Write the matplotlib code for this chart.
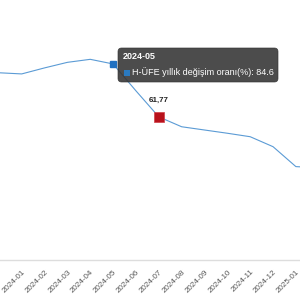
import matplotlib
matplotlib.use("Agg")
import matplotlib.pyplot as plt
from matplotlib.patches import FancyBboxPatch

months = ["2023-12", "2024-01", "2024-02", "2024-03", "2024-04", "2024-05",
          "2024-06", "2024-07", "2024-08", "2024-09", "2024-10", "2024-11",
          "2024-12", "2025-01", "2025-02"]
values = [80.8, 80.3, 82.9, 85.3, 86.6, 84.6, 73.0, 61.77, 57.5, 56.1,
          54.7, 53.2, 48.9, 40.3, 39.8]
hover_idx = 5
mark_idx = 7
series_name = "H-ÜFE yıllık değişim oranı(%)"

plt.rcParams['font.family'] = ['Liberation Sans', 'DejaVu Sans']

fig = plt.figure(figsize=(3, 3), dpi=100)
ax = fig.add_axes([0, 40/300, 1, 260/300])
x = list(range(len(months)))
ax.plot(x, values, color='#5b9bd5', lw=0.8, zorder=2)
ax.plot([hover_idx], [values[hover_idx]], 's', color='#1f70c1', ms=4.5, zorder=3)
ax.plot([mark_idx], [values[mark_idx]], 's', color='#b8121c', ms=7.5,
        markeredgecolor='#d04048', markeredgewidth=0.5, zorder=3)
ax.annotate(f"{values[mark_idx]:.2f}".replace('.', ','), (mark_idx, values[mark_idx]),
            xytext=(0, 12), textcoords='offset points', ha='center', va='center',
            fontsize=5.8, fontweight='bold', color='#222222')

ax.set_xticks(x)
ax.set_xticklabels(months, rotation=45, ha='right', rotation_mode='anchor',
                   fontsize=5.8, color='#555555')
ax.set_xlim(0.05, 13.18)
ax.set_ylim(0, 112.2)
ax.tick_params(axis='x', length=0, pad=6)
ax.set_yticks([])
for s in ['top', 'right', 'left']:
    ax.spines[s].set_visible(False)
ax.spines['bottom'].set_color('#dddddd')
ax.spines['bottom'].set_linewidth(1)
ax.set_facecolor('none')

# tooltip
box = FancyBboxPatch((118/300, 1 - 82/300), 160/300, 34/300,
                     boxstyle="round,pad=0,rounding_size=0.012",
                     transform=fig.transFigure, facecolor='#333333', alpha=0.88,
                     edgecolor='#333333', lw=0.5, zorder=10)
fig.patches.append(box)
fig.text(123/300, 1 - 57/300, months[hover_idx], fontsize=6.5, fontweight='bold',
         color='white', va='center', ha='left', zorder=11)
sq = FancyBboxPatch((123.5/300, 1 - 75.5/300), 6/300, 6/300, boxstyle="square,pad=0",
                    transform=fig.transFigure, facecolor='#2a7ac0', edgecolor='none', zorder=11)
fig.patches.append(sq)
fig.text(132.5/300, 1 - 72.5/300, f"{series_name}: {values[hover_idx]}", fontsize=6.5,
         color='white', va='center', ha='left', zorder=11)

fig.savefig("out.png", dpi=100)
